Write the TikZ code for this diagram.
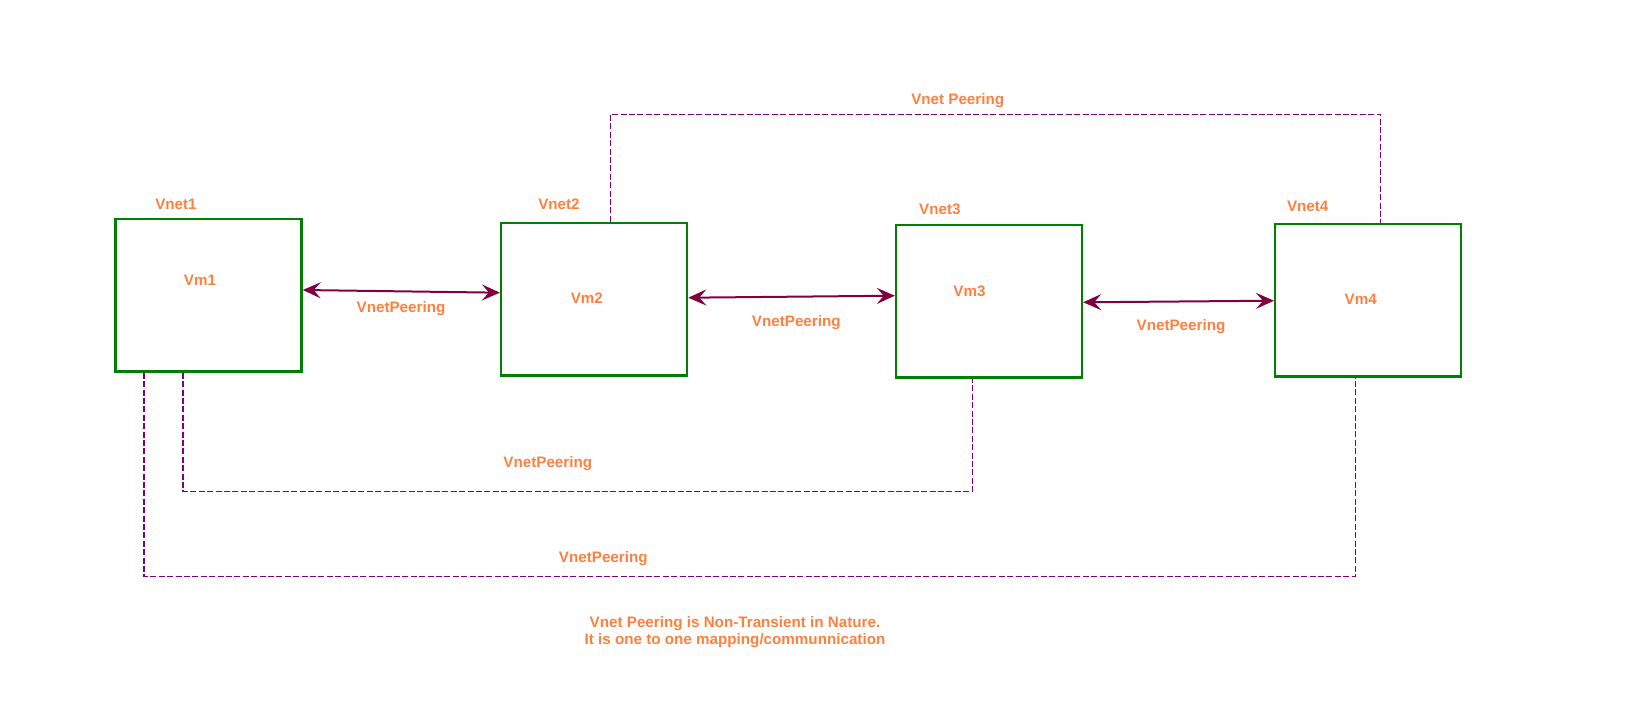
\documentclass[tikz,border=0pt]{standalone}
\usepackage{fontspec}
\setmainfont{Liberation Sans}
\usepackage{tikz}
\usetikzlibrary{arrows.meta, positioning}
\definecolor{vgreen}{HTML}{008000}
\definecolor{vorange}{HTML}{FF7F3F}
\definecolor{vmaroon}{HTML}{800040}
\definecolor{vpurple}{HTML}{800080}
\tikzstyle{vnet}=[rectangle, draw=vgreen, line width=1.2pt, minimum width=93pt, minimum height=76.3pt, inner sep=0pt]
\tikzstyle{lbl}=[text=vorange, font=\bfseries\fontsize{7.6}{8.5}\selectfont, inner sep=0pt]
\tikzstyle{peer}=[<->, draw=vmaroon, line width=1pt]
\tikzstyle{link}=[draw=vpurple, line width=0.6pt, dash pattern=on 3pt off 1.2pt]

\begin{document}
\begin{tikzpicture}[x=0.5pt, y=-0.5pt, >={Stealth[length=9pt, width=8pt, inset=3.5pt]}, auto]
          \useasboundingbox (0,0) rectangle (1649,707);
          \node[vnet] (b1) at (208.5,295.2) {};
          \node[vnet] (b2) at (594.1,299.3) {};
          \node[vnet] (b3) at (989,301.3) {};
          \node[vnet] (b4) at (1368.2,300.3) {};

          \node[lbl] (vm1) at (200,280) {Vm1};
          \node[lbl] (vm2) at (586.8,298.3) {Vm2};
          \node[lbl] (vm3) at (969.5,291.7) {Vm3};
          \node[lbl] (vm4) at (1360.7,299) {Vm4};

          \node[lbl] (vnet1) at (176,204) {Vnet1};
          \node[lbl] (vnet2) at (559,204) {Vnet2};
          \node[lbl] (vnet3) at (939.9,209.3) {Vnet3};
          \node[lbl] (vnet4) at (1307.7,206.7) {Vnet4};

          % direct peerings
          \draw[peer] ([yshift=2.6pt]b1.east) -- ([yshift=3.3pt]b2.west);
          \draw[peer] ([yshift=0.8pt]b2.east) -- ([yshift=2.8pt]b3.west);
          \draw[peer] ([yshift=-0.5pt]b3.east) -- ([yshift=-0.2pt]b4.west);
          \node[lbl] (p12) at (401,309) {VnetPeering};
          \node[lbl] (p23) at (796.3,322.7) {VnetPeering};
          \node[lbl] (p34) at (1181,326.7) {VnetPeering};

          % dashed peerings
          \coordinate (top) at (1000,114.3);
          \coordinate (mid) at (600,491.3);
          \coordinate (low) at (700,576.3);
          \draw[link] ([xshift=8.2pt]b2.north) |- (top) -| ([xshift=6.25pt]b4.north);
          \draw[link] ([xshift=-12.8pt]b1.south) |- (mid) -| ([xshift=-8.35pt]b3.south);
          \draw[link] ([xshift=-32.25pt]b1.south) |- (low) -| ([xshift=-6.4pt]b4.south);
          \node[lbl] (p24) at (957.7,101) {Vnet Peering};
          \node[lbl] (p13) at (547.8,463.7) {VnetPeering};
          \node[lbl] (p14) at (603.3,558.7) {VnetPeering};

          \node[lbl, align=center] (note) at (735,631.8) {Vnet Peering is Non-Transient in Nature.\\It is one to one mapping/communnication};
        \end{tikzpicture}
\end{document}
